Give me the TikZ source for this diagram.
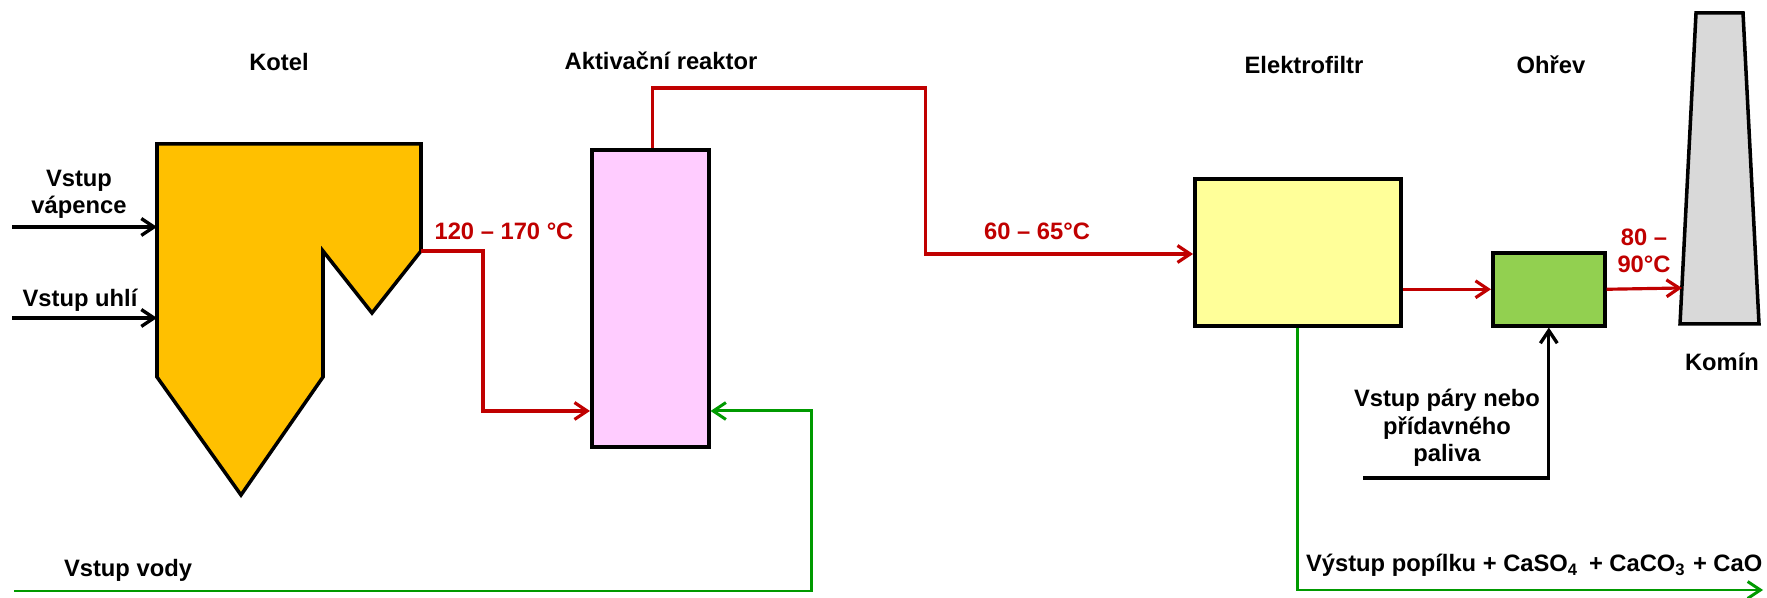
\documentclass[tikz,border=0pt]{standalone}
\usepackage{fontspec}
\setmainfont{Liberation Sans}
\usetikzlibrary{arrows.meta,calc}
\definecolor{flowred}{HTML}{C00000}
\definecolor{flowgreen}{HTML}{009A00}
\definecolor{boilerfill}{HTML}{FFC000}
\definecolor{reactorfill}{HTML}{FFCCFF}
\definecolor{filterfill}{HTML}{FFFF99}
\definecolor{heatfill}{HTML}{92D050}
\definecolor{stackfill}{HTML}{D9D9D9}
\tikzset{
  lbl/.style={font=\bfseries\fontsize{6.75pt}{7.85pt}\selectfont, inner sep=0pt, anchor=base, align=center},
  redlbl/.style={lbl, text=flowred},
  unit/.style={draw=black, line width=1.0pt, inner sep=0pt, anchor=north west},
  tip/.style={-{Straight Barb[length=3.6pt,width=4.8pt]}},
  redflow/.style={draw=flowred, line width=0.9pt},
  greenflow/.style={draw=flowgreen, line width=0.85pt},
  blackflow/.style={draw=black, line width=0.95pt},
}
\begin{document}
\begin{tikzpicture}[x=0.01cm, y=-0.01cm]
\useasboundingbox (0,0) rectangle (1767,598);

% Kotel (boiler)
\draw[fill=boilerfill, line width=1.0pt, line join=miter]
  (157,144) -- (421,144) -- (421,251) -- (372,313) -- (323,251) -- (323,377)
  -- (241,495) -- (157,377) -- cycle;
\coordinate (boilerout) at (421,251);
\coordinate (limein) at (157,227);
\coordinate (coalin) at (157,318);
\coordinate (limesrc) at (12,227);
\coordinate (coalsrc) at (12,318);

% Reactor, filter, heater
\node[unit, fill=reactorfill, minimum width=1.17cm, minimum height=2.97cm] (reactor) at (590,148) {};
\node[unit, fill=filterfill, minimum width=2.06cm, minimum height=1.47cm] (elektro) at (1193,177) {};
\node[unit, fill=heatfill, minimum width=1.12cm, minimum height=0.73cm] (ohrev) at (1491,251) {};

% Komín (stack)
\draw[fill=stackfill, line width=1.0pt] (1696,13) -- (1743,13) -- (1759,324) -- (1680,324) -- cycle;
\coordinate (stackin) at (1682,288);

% free ends
\coordinate (water) at (14,591);
\coordinate (ashout) at (1763,590);
\coordinate (steam) at (1363,478);

% Labels
\node[lbl] (tkotel) at (279,71) {Kotel};
\node[lbl] (treactor) at (661,70) {Aktivační reaktor};
\node[lbl] (telektro) at (1304,74) {Elektrofiltr};
\node[lbl] (tohrev) at (1551,74) {Ohřev};
\node[lbl] (tkomin) at (1722,371) {Komín};
\node[lbl] (tlime) at (79,214) {Vstup\\vápence};
\node[lbl] (tcoal) at (80,307) {Vstup uhlí};
\node[lbl] (twater) at (128,577) {Vstup vody};
\node[lbl] (tsteam) at (1447,462) {Vstup páry nebo\\přídavného\\paliva};
\node[lbl, anchor=base east] (tash) at (1763,572) {Výstup popílku + CaSO\textsubscript{4}\hspace{0.15em} + CaCO\textsubscript{3} + CaO};
\node[redlbl] (t1) at (504,240) {120 – 170 °C};
\node[redlbl] (t2) at (1037,240) {60 – 65°C};
\node[redlbl] (t3) at (1644,273) {80 –\\90°C};

% Connectors
\draw[blackflow, tip] (limesrc) -- (limein);
\draw[blackflow, tip] (coalsrc) -- (coalin);
\draw[redflow, tip] (boilerout) -- ++(62,0) -- ++(0,160) coordinate (rturn) -- (reactor.west |- rturn);
\draw[redflow, tip] ($(reactor.north)+(2,0)$) -- ++(0,-60) -| ++(273,166) coordinate (eturn) -- (elektro.west |- eturn);
\draw[redflow, tip] (elektro.east |- ohrev.west) -- (ohrev.west);
\draw[redflow, tip] (ohrev.east) -- (stackin);
\draw[blackflow, tip] (steam) -| (ohrev.south);
\draw[greenflow, tip] (elektro.south) |- (ashout);
\draw[greenflow, tip] (water) -| ++(797,-180) coordinate (wturn) -- (reactor.east |- wturn);
\end{tikzpicture}
\end{document}
